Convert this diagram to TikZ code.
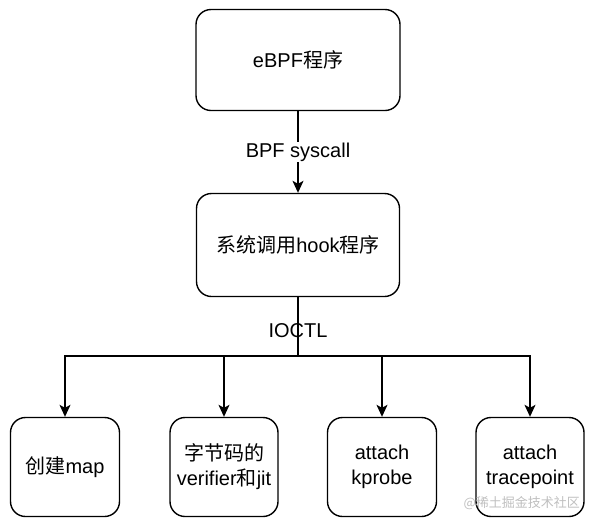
\documentclass[tikz,border=0pt]{standalone}
\usepackage{fontspec}
\setmainfont{Liberation Sans}
\newfontfamily\cjk{Noto Sans CJK SC}
\usetikzlibrary{arrows.meta}
\begin{document}
\begin{tikzpicture}[x=1pt,y=-1pt,
  box/.style={draw, line width=1.4pt, rounded corners=15pt, align=center, font=\fontsize{20}{25}\selectfont, inner sep=0pt},
  conn/.style={line width=1.3pt},
  arr/.style={conn, -{Stealth[length=12pt,width=11pt,inset=3pt]}},
  lbl/.style={fill=white, inner sep=1pt, font=\fontsize{20}{22}\selectfont}]
\useasboundingbox (0,0) rectangle (594,528);
\node[box, minimum width=204pt, minimum height=101pt] (ebpf) at (298,60) {eBPF{\cjk 程序}};
\node[box, minimum width=203pt, minimum height=103pt] (hook) at (298,245) {{\cjk 系统调用}hook{\cjk 程序}};
\node[box, minimum width=109pt, minimum height=99pt] (map) at (65,467) {{\cjk 创建}map};
\node[box, minimum width=108pt, minimum height=99pt] (ver) at (224,467) {{\cjk 字节码的}\\verifier{\cjk 和}jit};
\node[box, minimum width=109pt, minimum height=99pt] (kp) at (382,467) {attach\\kprobe};
\node[box, minimum width=108pt, minimum height=99pt] (tp) at (530,467) {attach\\tracepoint};
\coordinate (bus) at (298,356);
\draw[arr] (ebpf) -- node[lbl] {BPF syscall} (hook);
\draw[conn] (hook) -- node[lbl, fill=none, pos=0.57] {IOCTL} (bus);
\draw[arr] (bus) -| (map);
\draw[arr] (bus) -| (ver);
\draw[arr] (bus) -| (kp);
\draw[arr] (bus) -| (tp);
\node[text=black!25, font=\cjk\fontsize{13}{13}\selectfont, anchor=east, inner sep=0pt] (wm) at (580,503) {@稀土掘金技术社区};
\end{tikzpicture}
\end{document}
